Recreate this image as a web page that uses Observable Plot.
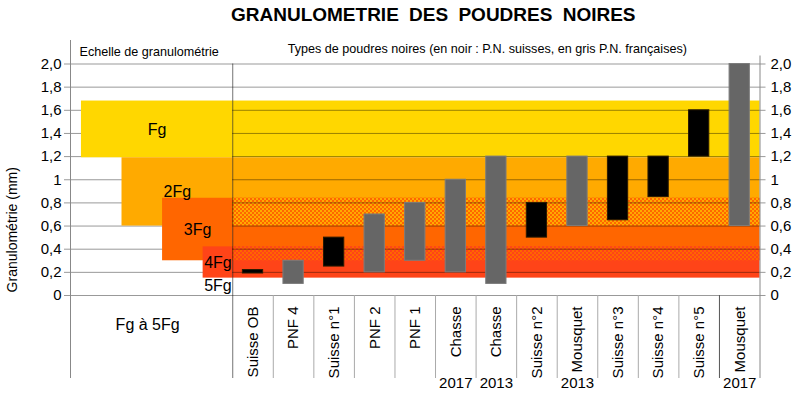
<!DOCTYPE html>
<html><head><meta charset="utf-8">
<script src="https://cdn.jsdelivr.net/npm/d3@7"></script>
<script src="https://cdn.jsdelivr.net/npm/@observablehq/plot@0.6"></script>
<style>
body{margin:0;background:#fff;}
.title text{word-spacing:5px;}
</style></head><body><div id="chart"></div>
<script>
const title = "GRANULOMETRIE DES POUDRES NOIRES";
const leftHeader = "Echelle de granulométrie";
const rightHeader = "Types de poudres noires (en noir : P.N. suisses, en gris P.N. françaises)";
const yLabel = "Granulométrie (mm)";
const panelLabel = "Fg à 5Fg";

const grades = ["Fg", "2Fg", "3Fg", "4Fg"];
const gradeLow = [1.19, 0.6, 0.3, 0.15];
const gradeHigh = [1.68, 1.19, 0.84, 0.42];
const gradeColors = ["#FFD700", "#FFAA00", "#FF6600", "#FF4418"];
const extraGrade = "5Fg";

const powders = ["Suisse OB", "PNF 4", "Suisse n°1", "PNF 2", "PNF 1", "Chasse", "Chasse", "Suisse n°2", "Mousquet", "Suisse n°3", "Suisse n°4", "Suisse n°5", "Mousquet"];
const powderYears = ["", "", "", "", "", "2017", "2013", "", "2013", "", "", "", "2017"];
const powderOrigin = ["CH", "FR", "CH", "FR", "FR", "FR", "FR", "CH", "FR", "CH", "CH", "CH", "FR"];
const powderMin = [0.19, 0.1, 0.25, 0.2, 0.3, 0.2, 0.1, 0.5, 0.6, 0.65, 0.85, 1.2, 0.6];
const powderMax = [0.22, 0.3, 0.5, 0.7, 0.8, 1.0, 1.2, 0.8, 1.2, 1.2, 1.2, 1.6, 2.0];
const originColors = {CH: "#000000", FR: "#666666"};
const originStroke = {CH: "#2a1a00", FR: "#7c7c7c"};

const tickValues = [0, 0.2, 0.4, 0.6, 0.8, 1, 1.2, 1.4, 1.6, 1.8, 2];
const tickLabels = ["0", "0,2", "0,4", "0,6", "0,8", "1", "1,2", "1,4", "1,6", "1,8", "2,0"];

// derived tables
const L = grades.length;          // columns in the left panel
const N = powders.length;         // columns in the right panel
const bands = grades.map((g, i) => ({g, i, low: gradeLow[i], high: gradeHigh[i], color: gradeColors[i]}));
const overlaps = [];
for (let i = 0; i < L - 1; i++) {
  if (gradeHigh[i + 1] > gradeLow[i]) overlaps.push({id: "pat" + i, low: gradeLow[i], high: gradeHigh[i + 1], a: gradeColors[i], b: gradeColors[i + 1]});
}
const bars = powders.map((p, i) => ({p, i, min: powderMin[i], max: powderMax[i], origin: powderOrigin[i], year: powderYears[i]}));
const seps = d3.range(L + 1, L + N);

const font = "Liberation Sans, Arial, sans-serif";

const svg = Plot.plot({
  width: 800,
  height: 396,
  marginLeft: 70,
  marginRight: 40.5,
  marginTop: 63.5,
  marginBottom: 101,
  style: {fontFamily: font, fontSize: "15px", background: "#fff", overflow: "visible"},
  x: {domain: [0, L + N], axis: null},
  y: {domain: [0, 2], axis: null},
  color: {type: "identity"},
  marks: [
    // left panel gridlines (under the scale blocks)
    Plot.ruleY(tickValues, {x1: 0, x2: L, insetLeft: -6, stroke: "#999"}),
    // left panel staircase
    Plot.rect(bands, {x1: d => d.i + 0.27, x2: L, y1: "low", y2: "high", fill: "color"}),
    // right panel bands
    Plot.rect(bands, {x1: L, x2: L + N, y1: "low", y2: "high", fill: "color"}),
    Plot.rect(overlaps, {x1: L, x2: L + N, y1: "low", y2: "high", fill: d => `url(#${d.id})`}),
    // right panel gridlines (over the bands)
    Plot.ruleY(tickValues, {x1: L, x2: L + N, insetRight: -6, stroke: "#000", strokeOpacity: 0.4}),
    // powder bars
    Plot.rect(bars, {x1: d => L + d.i + 0.25, x2: d => L + d.i + 0.75, y1: "min", y2: "max",
      fill: d => originColors[d.origin], stroke: d => originStroke[d.origin], strokeWidth: 1}),
    // panel frame lines
    Plot.ruleX([0], {y1: 2, y2: 0, insetTop: -23.5, insetBottom: -83, stroke: "#888"}),
    Plot.ruleX([L], {y1: 2, y2: 0, insetBottom: -83, stroke: "#000", strokeOpacity: 0.55}),
    Plot.ruleX([L + N], {y1: 2, y2: 0, insetTop: -8, insetBottom: -83, stroke: "#888"}),
    Plot.ruleX(seps, {y1: 0, y2: 0, insetBottom: -83, stroke: d => d === L + N - 1 ? "#555" : "#aaa"}),
    // axis tick labels
    Plot.text(tickValues, {y: d => d, text: (d, i) => tickLabels[i], frameAnchor: "left", textAnchor: "end", lineAnchor: "middle", dx: -9, fontSize: 15}),
    Plot.text(tickValues, {y: d => d, text: (d, i) => tickLabels[i], frameAnchor: "right", textAnchor: "start", lineAnchor: "middle", dx: 10.5, fontSize: 15}),
    // grade labels
    Plot.text(bands, {x: d => (d.i + 0.27 + L) / 2, y: d => (d.low + d.high) / 2, text: "g", fontSize: 16, lineAnchor: "middle"}),
    Plot.text([extraGrade], {x: L - 0.365, frameAnchor: "bottom", text: d => d, fontSize: 16, textAnchor: "middle", lineAnchor: "middle", dy: -10}),
    Plot.text([panelLabel], {x: L / 2, frameAnchor: "bottom", text: d => d, fontSize: 16, textAnchor: "middle", lineAnchor: "middle", dx: -4, dy: 29}),
    // column labels
    Plot.text(bars, {x: d => L + d.i + 0.5, frameAnchor: "bottom", text: "p", rotate: -90, textAnchor: "end", lineAnchor: "middle", dy: 11, fontSize: 15}),
    Plot.text(bars.filter(d => d.year), {x: d => L + d.i + 0.5, frameAnchor: "bottom", text: "year", textAnchor: "middle", lineAnchor: "middle", dy: 88, fontSize: 15}),
    // headers
    Plot.text([leftHeader], {x: 0, frameAnchor: "top", text: d => d, textAnchor: "start", lineAnchor: "middle", dx: 9, dy: -12, fontSize: 12.6}),
    Plot.text([rightHeader], {x: L, frameAnchor: "top", text: d => d, textAnchor: "start", lineAnchor: "middle", dx: 55, dy: -15.5, fontSize: 12.6}),
    Plot.text([yLabel], {frameAnchor: "left", text: d => d, rotate: -90, textAnchor: "middle", lineAnchor: "middle", dx: -58, dy: 50, fontSize: 14}),
    Plot.text([title], {frameAnchor: "top", text: d => d, textAnchor: "middle", lineAnchor: "middle", dx: 18, dy: -49.5, fontSize: 19, fontWeight: "bold", className: "title"})
  ]
});

// checkered patterns for overlapping grades
const defs = d3.select(svg).insert("defs", ":first-child");
for (const o of overlaps) {
  const p = defs.append("pattern").attr("id", o.id).attr("patternUnits", "userSpaceOnUse")
    .attr("width", 4).attr("height", 4);
  p.append("rect").attr("width", 4).attr("height", 4).attr("fill", o.a);
  p.append("rect").attr("width", 2).attr("height", 2).attr("fill", o.b);
  p.append("rect").attr("x", 2).attr("y", 2).attr("width", 2).attr("height", 2).attr("fill", o.b);
}
document.getElementById("chart").appendChild(svg);
</script>
</body></html>
